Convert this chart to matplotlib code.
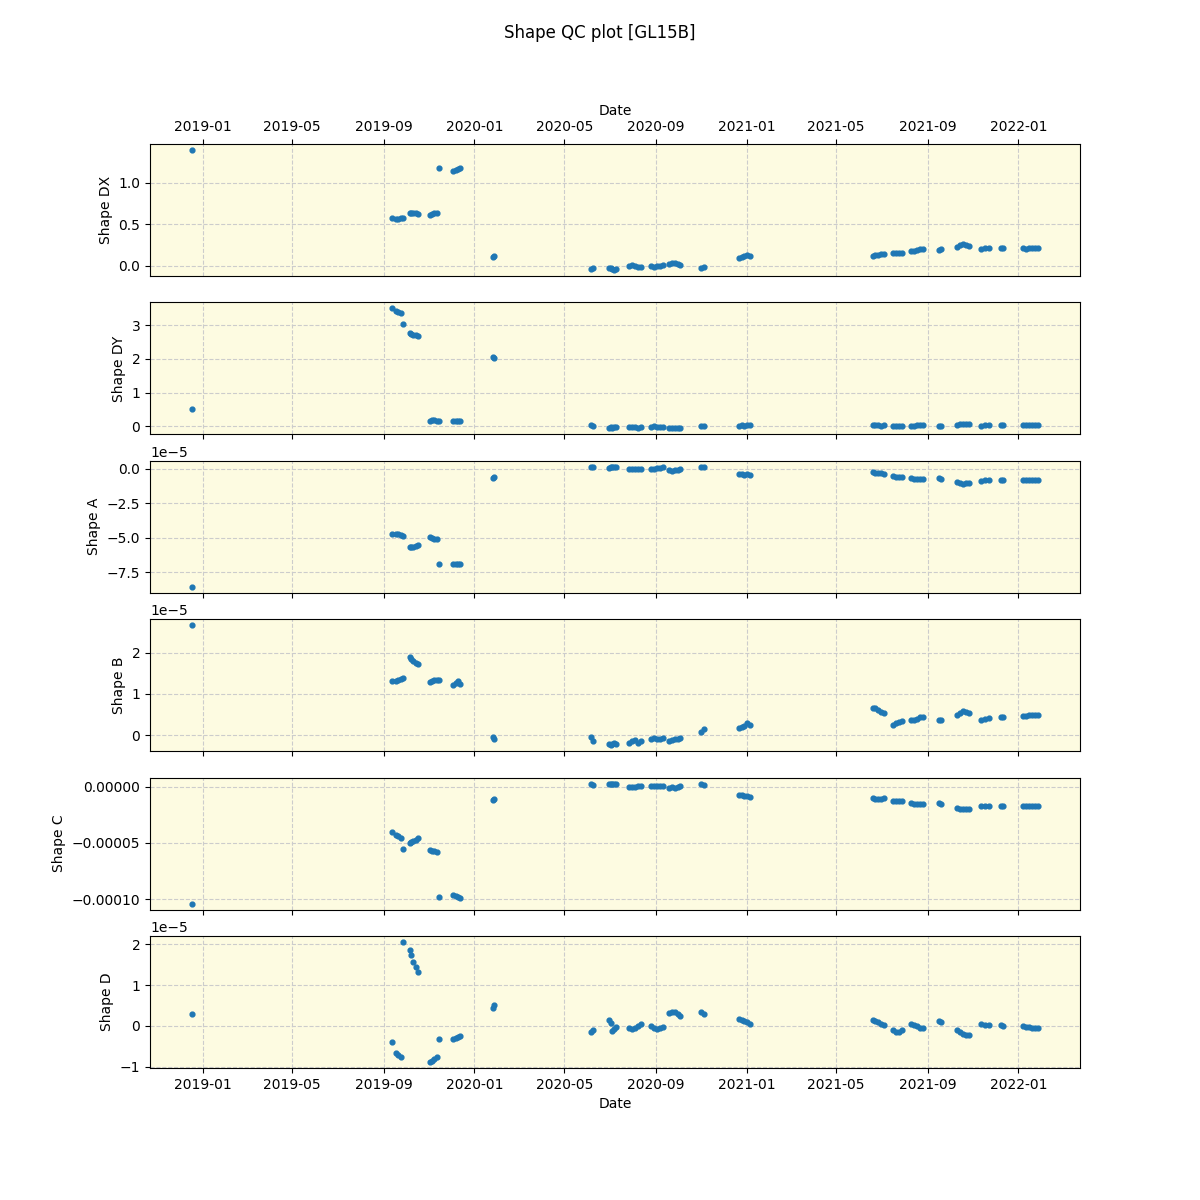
import numpy as np
import pandas as pd
import matplotlib
matplotlib.use("Agg")
import matplotlib.pyplot as plt
import matplotlib.dates as mdates

dates = [
    "2018-12-18",
    "2019-09-12", "2019-09-18", "2019-09-21", "2019-09-24", "2019-09-27",
    "2019-10-06", "2019-10-08", "2019-10-11", "2019-10-14", "2019-10-17",
    "2019-11-02", "2019-11-05", "2019-11-08", "2019-11-12", "2019-11-15",
    "2019-12-03", "2019-12-07", "2019-12-10", "2019-12-13",
    "2020-01-26", "2020-01-27",
    "2020-06-06", "2020-06-08",
    "2020-06-30", "2020-07-02", "2020-07-04", "2020-07-07", "2020-07-10",
    "2020-07-27", "2020-07-31", "2020-08-04", "2020-08-08", "2020-08-12",
    "2020-08-26", "2020-08-30", "2020-09-03", "2020-09-07", "2020-09-11",
    "2020-09-18", "2020-09-22", "2020-09-26", "2020-09-30", "2020-10-04",
    "2020-11-01", "2020-11-04",
    "2020-12-21", "2020-12-25", "2020-12-29", "2021-01-02", "2021-01-05",
    "2021-06-19", "2021-06-23", "2021-06-27", "2021-07-01", "2021-07-04",
    "2021-07-17", "2021-07-21", "2021-07-25", "2021-07-29",
    "2021-08-10", "2021-08-14", "2021-08-18", "2021-08-22", "2021-08-26",
    "2021-09-16", "2021-09-19",
    "2021-10-11", "2021-10-15", "2021-10-19", "2021-10-23", "2021-10-27",
    "2021-11-12", "2021-11-17", "2021-11-22",
    "2021-12-09", "2021-12-12",
    "2022-01-07", "2022-01-11", "2022-01-15", "2022-01-19", "2022-01-23", "2022-01-27",
]

shape_dx = [
    1.39,
    0.57, 0.56, 0.56, 0.57, 0.58,
    0.64, 0.64, 0.63, 0.63, 0.62,
    0.61, 0.62, 0.63, 0.64, 1.17,
    1.14, 1.15, 1.16, 1.17,
    0.11, 0.12,
    -0.04, -0.03,
    -0.02, -0.03, -0.04, -0.05, -0.04,
    0.00, 0.01, 0.00, -0.01, -0.01,
    0.00, -0.01, 0.00, 0.00, 0.01,
    0.02, 0.03, 0.03, 0.02, 0.01,
    -0.02, -0.01,
    0.10, 0.11, 0.12, 0.13, 0.12,
    0.12, 0.13, 0.13, 0.14, 0.14,
    0.15, 0.155, 0.16, 0.16,
    0.18, 0.18, 0.19, 0.20, 0.20,
    0.19, 0.20,
    0.23, 0.25, 0.26, 0.25, 0.24,
    0.20, 0.21, 0.22,
    0.21, 0.22,
    0.21, 0.20, 0.21, 0.22, 0.21, 0.21,
]

shape_dy = [
    0.51,
    3.50, 3.42, 3.40, 3.35, 3.03,
    2.76, 2.74, 2.72, 2.70, 2.68,
    0.15, 0.18, 0.19, 0.17, 0.17,
    0.16, 0.17, 0.17, 0.16,
    2.05, 2.04,
    0.03, 0.01,
    -0.04, -0.03, -0.05, -0.03, -0.02,
    -0.02, -0.03, -0.01, -0.04, -0.02,
    -0.01, 0.02, -0.02, -0.03, -0.01,
    -0.05, -0.06, -0.05, -0.06, -0.05,
    0.00, 0.02,
    0.02, 0.03, 0.02, 0.05, 0.03,
    0.03, 0.04, 0.03, 0.02, 0.03,
    0.02, 0.01, 0.02, 0.02,
    0.02, 0.02, 0.03, 0.03, 0.04,
    0.01, 0.01,
    0.05, 0.06, 0.08, 0.07, 0.07,
    0.02, 0.03, 0.04,
    0.05, 0.05,
    0.05, 0.04, 0.05, 0.05, 0.05, 0.05,
]

# shape A, B, D in units of 1e-5, C in units of 1e-5 as well
shape_a = [
    -8.55,
    -4.75, -4.72, -4.70, -4.78, -4.85,
    -5.70, -5.68, -5.65, -5.60, -5.55,
    -4.95, -5.00, -5.05, -5.10, -6.90,
    -6.90, -6.92, -6.90, -6.88,
    -0.65, -0.60,
    0.12, 0.15,
    0.08, 0.12, 0.15, 0.14, 0.10,
    0.00, 0.01, 0.00, -0.01, 0.00,
    0.00, 0.02, 0.05, 0.08, 0.10,
    -0.10, -0.12, -0.08, -0.05, -0.02,
    0.15, 0.10,
    -0.35, -0.40, -0.42, -0.40, -0.45,
    -0.25, -0.28, -0.30, -0.32, -0.35,
    -0.55, -0.58, -0.60, -0.58,
    -0.65, -0.70, -0.75, -0.72, -0.75,
    -0.65, -0.70,
    -0.95, -1.02, -1.07, -1.05, -1.02,
    -0.88, -0.84, -0.82,
    -0.80, -0.78,
    -0.80, -0.80, -0.80, -0.80, -0.80, -0.80,
]

shape_b = [
    2.66,
    1.32, 1.31, 1.33, 1.36, 1.38,
    1.90, 1.85, 1.80, 1.75, 1.72,
    1.28, 1.32, 1.33, 1.33, 1.33,
    1.22, 1.26, 1.30, 1.25,
    -0.03, -0.10,
    -0.05, -0.14,
    -0.20, -0.24, -0.22, -0.18, -0.20,
    -0.18, -0.14, -0.12, -0.18, -0.14,
    -0.10, -0.06, -0.08, -0.10, -0.06,
    -0.14, -0.12, -0.10, -0.08, -0.06,
    0.08, 0.14,
    0.18, 0.20, 0.22, 0.30, 0.26,
    0.65, 0.67, 0.62, 0.57, 0.54,
    0.26, 0.30, 0.32, 0.34,
    0.36, 0.38, 0.40, 0.43, 0.44,
    0.38, 0.37,
    0.50, 0.55, 0.58, 0.56, 0.54,
    0.38, 0.40, 0.42,
    0.43, 0.45,
    0.47, 0.46, 0.48, 0.49, 0.48, 0.48,
]

shape_c = [
    -10.4,
    -4.0, -4.3, -4.4, -4.55, -5.55,
    -5.0, -4.9, -4.8, -4.7, -4.6,
    -5.65, -5.7, -5.75, -5.85, -9.85,
    -9.6, -9.75, -9.85, -9.9,
    -1.15, -1.05,
    0.22, 0.18,
    0.20, 0.25, 0.28, 0.28, 0.22,
    -0.02, 0.00, 0.02, 0.05, 0.08,
    0.05, 0.06, 0.04, 0.05, 0.06,
    -0.10, -0.05, -0.08, 0.00, 0.05,
    0.20, 0.15,
    -0.75, -0.72, -0.80, -0.85, -0.92,
    -1.00, -1.05, -1.08, -1.05, -1.00,
    -1.25, -1.25, -1.25, -1.24,
    -1.45, -1.50, -1.55, -1.52, -1.50,
    -1.45, -1.55,
    -1.90, -1.98, -2.02, -2.00, -1.95,
    -1.70, -1.70, -1.68,
    -1.70, -1.70,
    -1.70, -1.70, -1.70, -1.70, -1.70, -1.70,
]

shape_d = [
    0.28,
    -0.39, -0.66, -0.70, -0.76, 2.05,
    1.85, 1.74, 1.56, 1.45, 1.32,
    -0.88, -0.85, -0.80, -0.76, -0.31,
    -0.32, -0.29, -0.26, -0.24,
    0.45, 0.51,
    -0.15, -0.09,
    0.14, 0.08, -0.12, -0.08, -0.03,
    -0.06, -0.08, -0.04, 0.00, 0.05,
    -0.01, -0.05, -0.07, -0.05, -0.03,
    0.32, 0.34, 0.33, 0.28, 0.24,
    0.35, 0.29,
    0.17, 0.14, 0.12, 0.09, 0.06,
    0.14, 0.12, 0.10, 0.06, 0.02,
    -0.10, -0.15, -0.14, -0.11,
    0.05, 0.02, 0.00, -0.04, -0.06,
    0.12, 0.10,
    -0.10, -0.15, -0.20, -0.22, -0.22,
    0.06, 0.03, 0.02,
    0.03, 0.01,
    -0.01, -0.03, -0.02, -0.04, -0.04, -0.04,
]

t = pd.to_datetime(dates)
panels = [
    ("Shape DX", np.array(shape_dx)),
    ("Shape DY", np.array(shape_dy)),
    ("Shape A", np.array(shape_a) * 1e-5),
    ("Shape B", np.array(shape_b) * 1e-5),
    ("Shape C", np.array(shape_c) * 1e-5),
    ("Shape D", np.array(shape_d) * 1e-5),
]

fig, axes = plt.subplots(6, 1, sharex=True, figsize=(12, 12), dpi=100)
fig.suptitle("Shape QC plot [GL15B]")

for ax, (name, vals) in zip(axes, panels):
    ax.scatter(t, vals, s=12, color="#1f77b4", zorder=3)
    ax.set_facecolor("#fdfbe1")
    ax.grid(True, linestyle="--", color="#cccccc", linewidth=0.8)
    ax.set_ylabel(name)

axes[0].xaxis.tick_top()
axes[0].xaxis.set_label_position("top")
axes[0].tick_params(axis="x", labeltop=True)
axes[0].set_xlabel("Date")
axes[-1].set_xlabel("Date")
axes[-1].xaxis.set_major_locator(mdates.MonthLocator(bymonth=[1, 5, 9]))
axes[-1].xaxis.set_major_formatter(mdates.DateFormatter("%Y-%m"))

plt.savefig("out.png")
